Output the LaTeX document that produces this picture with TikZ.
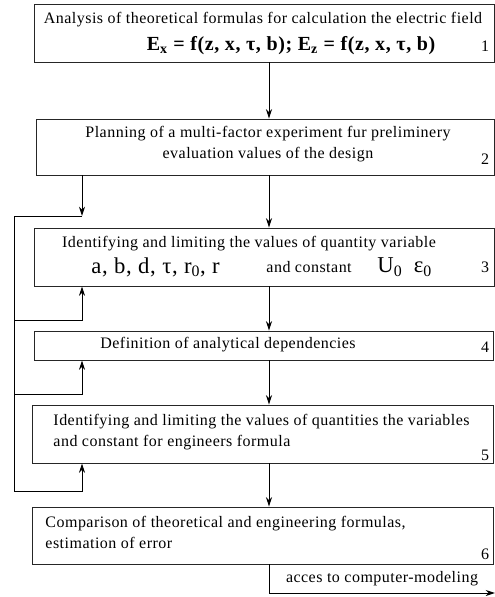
\documentclass[tikz,border=0pt]{standalone}
\usepackage{fontspec}
\setmainfont{Liberation Serif}[LetterSpace=3]
\usetikzlibrary{positioning,fit,arrows.meta}

\begin{document}
\begin{tikzpicture}[x=0.75pt, y=-0.75pt, line width=0.7pt,
    >={Stealth[length=7pt,width=4.5pt]},
    block/.style={draw=black!85, inner sep=0pt},
    txt/.style={inner sep=0pt, font=\fontsize{12}{15.75}\selectfont},
    big/.style={inner sep=0pt, font=\fontsize{15}{18}\selectfont\bfseries},
    large/.style={inner sep=0pt, font=\fontsize{17}{20}\selectfont},
    num/.style={txt}]
  \useasboundingbox (0,0) rectangle (495,597);
  \node[block, fit={(34,4) (494,62)}] (b1) {};
  \node[block, fit={(36,119) (494,175)}] (b2) {};
  \node[block, fit={(34,228) (494,286)}] (b3) {};
  \node[block, fit={(34,331) (493,360)}] (b4) {};
  \node[block, fit={(32,405) (493,463)}] (b5) {};
  \node[block, fit={(32,507) (493,564)}] (b6) {};

  \node[txt] (t1) at (263,20) {Analysis of theoretical formulas for calculation the electric field};
  \node[big] (f1) at (291,46) {E\textsubscript{x} = f(z, x, τ, b); E\textsubscript{z} = f(z, x, τ, b)};
  \node[num] (n1) at (485,46) {1};
  \node[txt, align=center] (t2) at (268,144) {Planning of a multi-factor experiment fur preliminery\\evaluation values of the design};
  \node[num] (n2) at (485,159) {2};
  \node[txt] (t3) at (249,244) {Identifying and limiting the values of quantity variable};
  \node[large, anchor=west] (f3) at (91,267) {a, b, d, τ, r\textsubscript{0}, r};
  \node[txt, anchor=west] (c3) at (266,267) {and constant};
  \node[large, anchor=west] (u3) at (377,267) {U\textsubscript{0}\enspace ε\textsubscript{0}};
  \node[num] (n3) at (485,267) {3};
  \node[txt] (t4) at (228,345) {Definition of analytical dependencies};
  \node[num] (n4) at (485,347) {4};
  \node[txt, align=left, anchor=west] (t5) at (53,432) {Identifying and limiting the values of quantities the variables\\and constant for engineers formula};
  \node[num] (n5) at (485,455) {5};
  \node[txt, align=left, anchor=west] (t6) at (45,532) {Comparison of theoretical and engineering formulas,\\estimation of error};
  \node[num] (n6) at (485,554) {6};

  \coordinate (mid) at (269,0);
  \coordinate (fb) at (82,0);
  \coordinate (j2) at (82,216);
  \coordinate (r3) at (14,320);
  \coordinate (r4) at (14,394);
  \coordinate (r5) at (14,491);
  \coordinate (out) at (495,593);
  \foreach \a/\b in {b1/b2,b2/b3,b3/b4,b4/b5,b5/b6}
    \draw[->] (\a.south -| mid) -- (\b.north -| mid);
  \draw[->] (b2.south -| fb) -- (j2);
  \draw (j2) -- (j2 -| r3) -- (r5);
  \foreach \r/\b in {r3/b3,r4/b4,r5/b5}
    \draw[->] (\r) -| (\b.south -| fb);
  \draw[->] (b6.south -| mid) |- (out) node[txt, pos=0.75, above=5pt] (lab) {acces to computer-modeling};
\end{tikzpicture}
\end{document}
